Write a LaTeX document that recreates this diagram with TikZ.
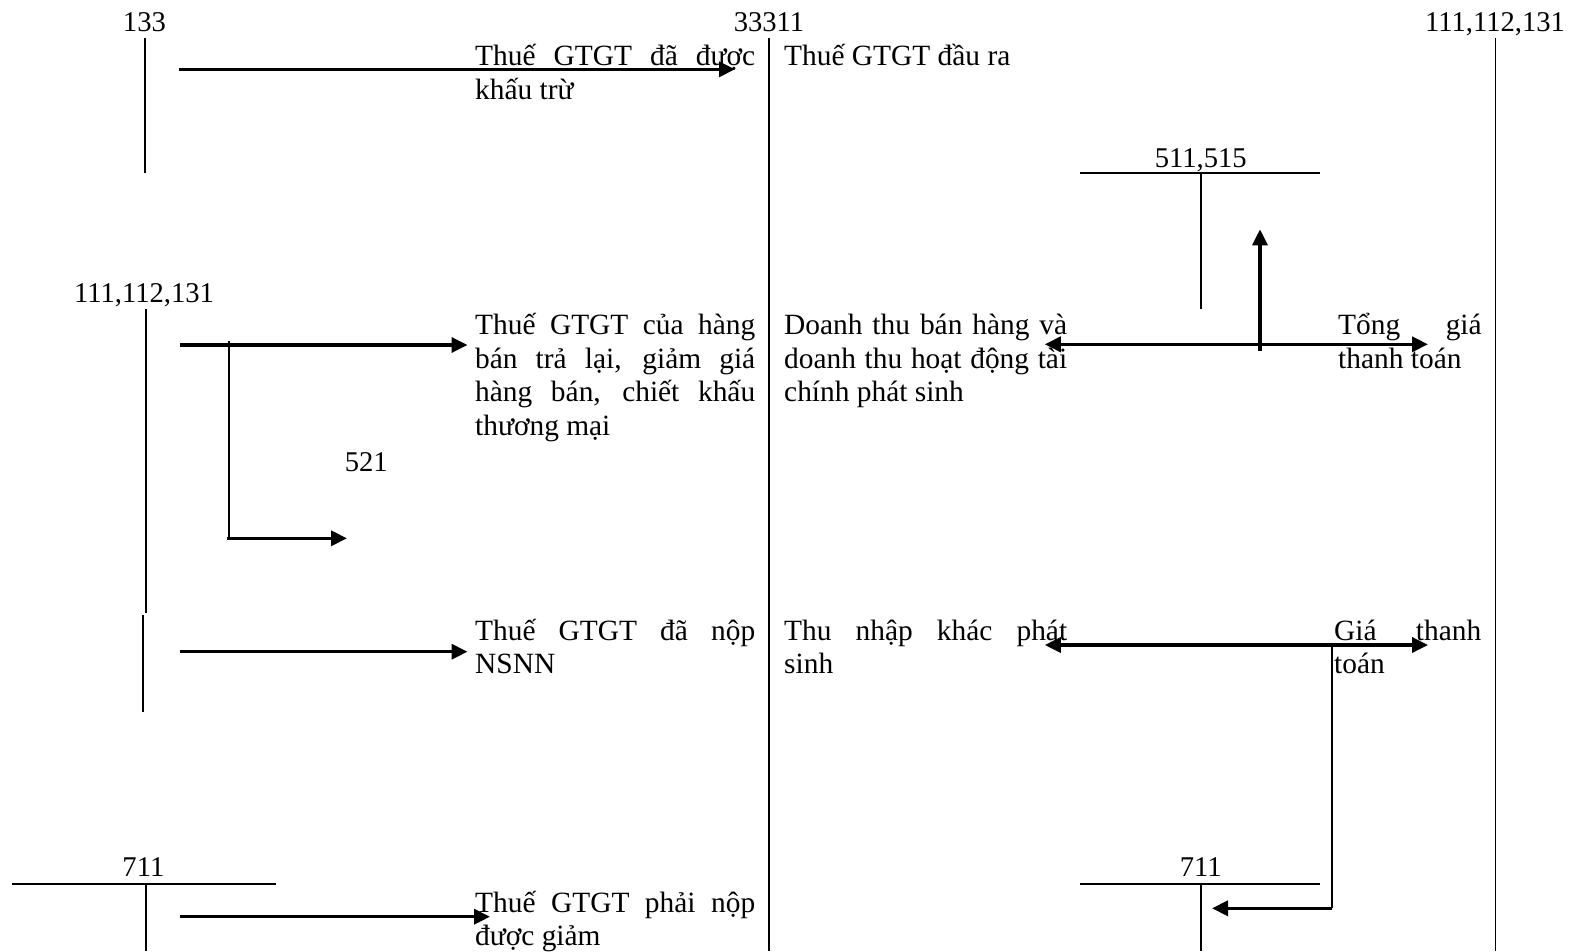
\documentclass[tikz,border=0pt]{standalone}
\usepackage{fontspec}
\setmainfont{Liberation Serif}
\usetikzlibrary{arrows.meta}
\begin{document}
\begin{tikzpicture}[x=1pt,y=-1pt,
  acct/.style={line width=1.9pt},
  flow/.style={line width=3.4pt,-{Triangle[length=16pt,width=15pt]}},
  flowtwo/.style={line width=3.4pt,{Triangle[length=16pt,width=15pt]}-{Triangle[length=16pt,width=15pt]}},
  lbl/.style={font=\fontsize{28.6}{33}\selectfont, anchor=base, inner sep=0pt},
  txt/.style={font=\fontsize{29.4}{33.5}\selectfont, anchor=base west, inner sep=0pt,
              text width=#1, align=justify, execute at begin node={\tolerance=10000\hbadness=10000\relax}},
]
\useasboundingbox (0,0) rectangle (1575,951);

% ---- account labels
\node[lbl] (l133) at (144.4,31.7) {133};
\node[lbl] (l33311) at (769,31.7) {33311};
\node[lbl] (lR) at (1495,31.7) {111,112,131};
\node[lbl] (lL) at (144,302.7) {111,112,131};
\node[lbl] (l521) at (366.3,471.7) {521};
\node[lbl] (l511) at (1200.7,167) {511,515};
\node[lbl] (l711L) at (143.4,876) {711};
\node[lbl] (l711R) at (1200.7,876) {711};

% ---- coordinates
\coordinate (a133t) at (145.4,38);   \coordinate (a133b) at (145.4,173);
\coordinate (a333t) at (769,38);     \coordinate (a333b) at (769,951);
\coordinate (aRt) at (1495.5,38);    \coordinate (aRb) at (1495.5,951);
\coordinate (aLt) at (146.4,309);    \coordinate (aLb) at (146.4,613);
\coordinate (aL2t) at (143.4,615);   \coordinate (aL2b) at (143.4,711.7);
\coordinate (t511l) at (1079.6,173.3); \coordinate (t511r) at (1320,173.3);
\coordinate (t511t) at (1200.7,173.3); \coordinate (t511b) at (1200.7,309);
\coordinate (t711Ll) at (12,883.7);  \coordinate (t711Lr) at (275.5,883.7);
\coordinate (t711Lt) at (146,883.7); \coordinate (t711Lb) at (146,951);
\coordinate (t711Rl) at (1079.6,883.7); \coordinate (t711Rr) at (1320,883.7);
\coordinate (t711Rt) at (1200.7,883.7); \coordinate (t711Rb) at (1200.7,951);

\coordinate (f1s) at (178.6,69.3);   \coordinate (f1e) at (735,69.3);
\coordinate (f2s) at (179.6,345);    \coordinate (f2e) at (467.5,345);
\coordinate (b521t) at (229,341);    \coordinate (b521b) at (229,538.3);
\coordinate (f521s) at (227,538.3);  \coordinate (f521e) at (347,538.3);
\coordinate (f3s) at (179.6,651.7);  \coordinate (f3e) at (467.5,651.7);
\coordinate (f4s) at (179.6,916.7);  \coordinate (f4e) at (490,916.7);
\coordinate (d1l) at (1044.8,344.3); \coordinate (d1r) at (1428,344.3);
\coordinate (upb) at (1260,350.7);   \coordinate (upt) at (1260,229.3);
\coordinate (d2l) at (1044.8,645);   \coordinate (d2r) at (1428,645);
\coordinate (g711t) at (1331.7,642.7); \coordinate (g711b) at (1331.7,908.3);
\coordinate (g711e) at (1212,908.3);

% ---- account lines
\draw[acct] (a133t) -- (a133b);
\draw[acct] (a333t) -- (a333b);
\draw[acct] (aRt) -- (aRb);
\draw[acct] (aLt) -- (aLb);
\draw[acct] (aL2t) -- (aL2b);
\draw[acct] (t511l) -- (t511r);
\draw[acct] (t511t) -- (t511b);
\draw[acct] (t711Ll) -- (t711Lr);
\draw[acct] (t711Lt) -- (t711Lb);
\draw[acct] (t711Rl) -- (t711Rr);
\draw[acct] (t711Rt) -- (t711Rb);
\draw[acct] (b521t) -- (b521b);
\draw[acct] (g711t) -- (g711b);

% ---- flows
\draw[flow] (f1s) -- (f1e);
\draw[flow] (f2s) -- (f2e);
\draw[flow] (f521s) -- (f521e);
\draw[flow] (f3s) -- (f3e);
\draw[flow] (f4s) -- (f4e);
\draw[flowtwo] (d1l) -- (d1r);
\draw[flow] (upb) -- (upt);
\draw[flowtwo] (d2l) -- (d2r);
\draw[flow] (g711b) -- (g711e);

% ---- texts
\node[txt=280pt] (x1) at (475,65.7) {Thuế GTGT đã được\linebreak khấu trừ};
\node[txt=283pt] (x2) at (784,65.7) {Thuế GTGT đầu ra};
\node[txt=280pt] (x3) at (475,334.5) {Thuế GTGT của hàng\linebreak bán trả lại, giảm giá\linebreak hàng bán, chiết khấu\linebreak thương mại};
\node[txt=283pt] (x4) at (784,334.5) {Doanh thu bán hàng và\linebreak doanh thu hoạt động tài\linebreak chính phát sinh};
\node[txt=143.5pt] (x5) at (1338,334.5) {Tổng giá\linebreak thanh toán};
\node[txt=280pt] (x6) at (475,640) {Thuế GTGT đã nộp\linebreak NSNN};
\node[txt=283pt] (x7) at (784,640) {Thu nhập khác phát\linebreak sinh};
\node[txt=147pt] (x8) at (1334,640) {Giá thanh\linebreak toán};
\node[txt=280pt] (x9) at (475,912) {Thuế GTGT phải nộp\linebreak được giảm};
\end{tikzpicture}
\end{document}
